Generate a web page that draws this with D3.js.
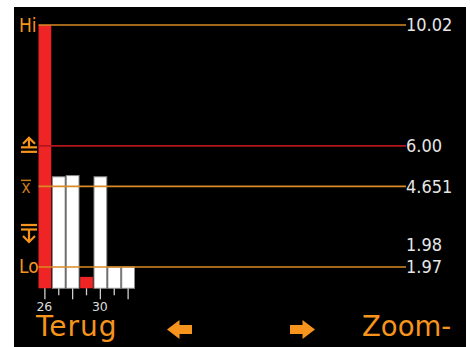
<!DOCTYPE html>
<meta charset="utf-8">
<style>
  body { margin: 0; background: #fff; }
  svg { display: block; }
</style>
<body>
<script src="https://d3js.org/d3.v7.min.js"></script>
<script>
  // data
  var days = ["26", "27", "28", "29", "30", "31", "1"];
  var labelledDays = ["26", "30"];
  var values = [10.02, 4.97, 5.01, 1.64, 4.97, 1.97, 1.97];
  var outOfSpec = [true, false, false, true, false, false, false];

  var hiValue = 10.02;
  var upperLimit = 6.00;
  var meanValue = 4.651;
  var lowerLimit = 1.98;
  var loValue = 1.97;
  var axisMin = 1.26;

  var refLabels = ["10.02", "6.00", "4.651", "1.98", "1.97"];

  var width = 470, height = 347;
  var orange = "#f7941d", lineOrange = "#d98a24", red = "#ee2524", darkRed = "#b2161c";
  var txt = "#e6e6e6";

  var svg = d3.select("body").append("svg")
    .attr("width", width)
    .attr("height", height);

  // screen background
  svg.append("rect")
    .attr("x", 14).attr("y", 7)
    .attr("width", 452).attr("height", 340)
    .attr("fill", "#000");

  var x = d3.scaleBand()
    .domain(days)
    .range([38.5, 134.5])
    .paddingInner(0.08)
    .paddingOuter(0);

  var y = d3.scaleLinear()
    .domain([axisMin, hiValue])
    .range([288.3, 25]);

  var lineX1 = 38.5, lineX2 = 406;

  // bars
  svg.selectAll("rect.bar")
    .data(values)
    .enter()
    .append("rect")
    .attr("class", "bar")
    .attr("x", function(d, i) { return x(days[i]); })
    .attr("y", function(d) { return y(d); })
    .attr("width", x.bandwidth())
    .attr("height", function(d) { return y(axisMin) - y(d); })
    .attr("fill", function(d, i) { return outOfSpec[i] ? red : "#fff"; })
    .attr("stroke", function(d, i) { return outOfSpec[i] ? "none" : "#8a8a8a"; })
    .attr("stroke-width", 1);

  // ticks under bars
  svg.selectAll("line.tick")
    .data(days)
    .enter()
    .append("line")
    .attr("class", "tick")
    .attr("x1", function(d) { return x(d) + x.bandwidth() / 2; })
    .attr("x2", function(d) { return x(d) + x.bandwidth() / 2; })
    .attr("y1", y(axisMin))
    .attr("y2", function(d, i) { return y(axisMin) + (i % 2 == 0 ? 11 : 7); })
    .attr("stroke", "#cfcfcf")
    .attr("stroke-width", 1.3);

  svg.selectAll("text.daylabel")
    .data(labelledDays)
    .enter()
    .append("text")
    .attr("class", "daylabel")
    .text(function(d) { return d; })
    .attr("x", function(d) { return x(d) + x.bandwidth() / 2 - 0.5; })
    .attr("y", 311)
    .attr("text-anchor", "middle")
    .attr("font-family", "DejaVu Sans")
    .attr("font-size", "12.5px")
    .attr("fill", "#dcdcdc");

  // reference lines
  var refLines = [
    { v: hiValue, c: lineOrange },
    { v: upperLimit, c: darkRed },
    { v: meanValue, c: lineOrange },
    { v: loValue, c: lineOrange }
  ];
  svg.selectAll("line.ref")
    .data(refLines)
    .enter()
    .append("line")
    .attr("class", "ref")
    .attr("x1", lineX1)
    .attr("x2", lineX2)
    .attr("y1", function(d) { return y(d.v); })
    .attr("y2", function(d) { return y(d.v); })
    .attr("stroke", function(d) { return d.c; })
    .attr("stroke-width", 1.6);

  // right labels
  var labelY = [y(hiValue), y(upperLimit), y(meanValue), y(lowerLimit) - 22, y(loValue)];
  svg.selectAll("text.reflabel")
    .data(refLabels)
    .enter()
    .append("text")
    .attr("class", "reflabel")
    .text(function(d) { return d; })
    .attr("x", 406)
    .attr("y", function(d, i) { return labelY[i]; })
    .attr("dy", "0.36em")
    .attr("font-family", "DejaVu Sans Condensed, DejaVu Sans")
    .attr("font-size", "18px")
    .attr("fill", txt);

  // left side marks
  svg.append("text").text("Hi")
    .attr("x", 19).attr("y", 32.3)
    .attr("font-family", "DejaVu Sans Condensed, DejaVu Sans")
    .attr("font-size", "19px")
    .attr("fill", orange);
  svg.append("text").text("Lo")
    .attr("x", 19).attr("y", 273)
    .attr("font-family", "DejaVu Sans Condensed, DejaVu Sans")
    .attr("font-size", "19px")
    .attr("fill", orange);

  // upper limit symbol
  var uy = y(upperLimit) - 8, ux = 29;
  var up = svg.append("g").attr("stroke", orange).attr("stroke-width", 2.2).attr("fill", "none");
  up.append("path").attr("d", "M" + (ux - 6) + "," + (uy + 6) + "L" + ux + "," + uy + "L" + (ux + 6) + "," + (uy + 6));
  up.append("line").attr("x1", ux).attr("x2", ux).attr("y1", uy).attr("y2", uy + 9);
  up.append("line").attr("x1", ux - 8).attr("x2", ux + 8).attr("y1", uy + 9.5).attr("y2", uy + 9.5);
  up.append("line").attr("x1", ux - 8).attr("x2", ux + 8).attr("y1", uy + 14).attr("y2", uy + 14);

  // mean symbol
  var my = y(meanValue);
  svg.append("text").text("x")
    .attr("x", 26).attr("y", my + 7)
    .attr("text-anchor", "middle")
    .attr("font-family", "DejaVu Sans Condensed, DejaVu Sans")
    .attr("font-size", "17px")
    .attr("fill", "#c87a1c");
  svg.append("line")
    .attr("x1", 21).attr("x2", 31)
    .attr("y1", my - 6).attr("y2", my - 6)
    .attr("stroke", "#c87a1c").attr("stroke-width", 1.5);

  // lower limit symbol
  var ly = 225, lx = 29;
  var lo = svg.append("g").attr("stroke", orange).attr("stroke-width", 2.2).attr("fill", "none");
  lo.append("line").attr("x1", lx - 8).attr("x2", lx + 8).attr("y1", ly).attr("y2", ly);
  lo.append("line").attr("x1", lx - 8).attr("x2", lx + 8).attr("y1", ly + 4.5).attr("y2", ly + 4.5);
  lo.append("line").attr("x1", lx).attr("x2", lx).attr("y1", ly + 5).attr("y2", ly + 17);
  lo.append("path").attr("d", "M" + (lx - 6) + "," + (ly + 11) + "L" + lx + "," + (ly + 17) + "L" + (lx + 6) + "," + (ly + 11));

  // soft keys
  svg.append("text").text("Terug")
    .attr("x", 36).attr("y", 336)
    .attr("font-family", "DejaVu Sans")
    .attr("font-size", "28px")
    .attr("letter-spacing", "1px")
    .attr("fill", orange);
  svg.append("text").text("Zoom-")
    .attr("x", 362).attr("y", 336)
    .attr("font-family", "DejaVu Sans")
    .attr("font-size", "27.5px")
    .attr("fill", orange);

  function arrow(x0, dir) {
    var cy = 329.5;
    var pts = [[0, 0], [12.5, -9.5], [12.5, -4.5], [25, -4.5], [25, 4.5], [12.5, 4.5], [12.5, 9.5]];
    var d = "M" + pts.map(function(p) { return (x0 + dir * p[0]) + "," + (cy + p[1]); }).join("L") + "Z";
    svg.append("path").attr("d", d).attr("fill", orange);
  }
  arrow(167, 1);
  arrow(315, -1);
</script>
</body>
